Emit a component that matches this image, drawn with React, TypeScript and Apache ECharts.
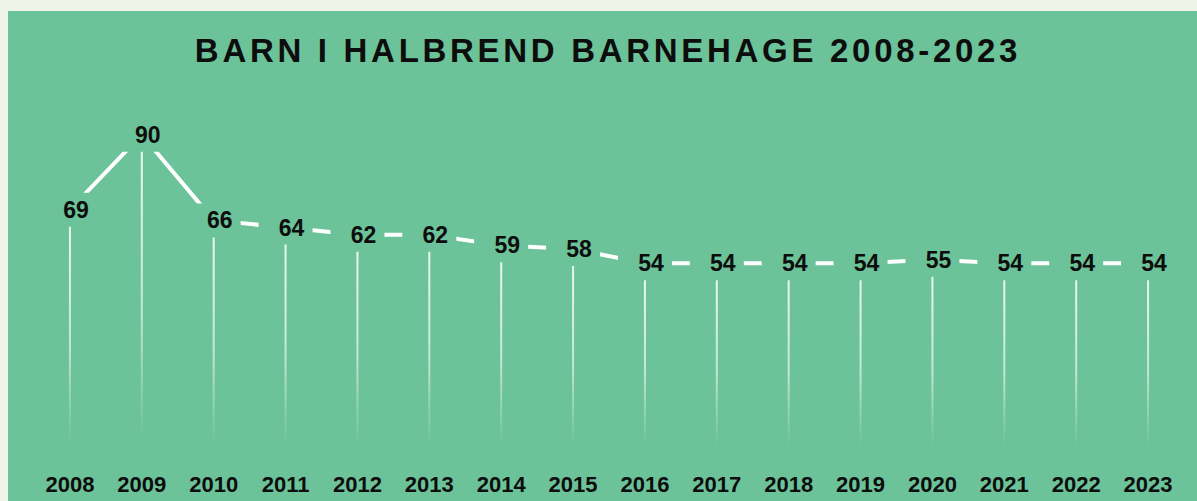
import React, { useEffect, useRef } from "react";
import * as echarts from "echarts";

const TITLE = "BARN I HALBREND BARNEHAGE 2008-2023";
const years = [
  "2008", "2009", "2010", "2011", "2012", "2013", "2014", "2015",
  "2016", "2017", "2018", "2019", "2020", "2021", "2022", "2023",
];
const children = [69, 90, 66, 64, 62, 62, 59, 58, 54, 54, 54, 54, 55, 54, 54, 54];

const GREEN = "#6cc399";
const PAGE_BG = "#eef4e7";
const FONT = "'Liberation Sans', Arial, Helvetica, sans-serif";

export default function App() {
  const ref = useRef<HTMLDivElement>(null);

  useEffect(() => {
    const el = ref.current!;
    const chart = echarts.init(el, null, { renderer: "svg" });
    chart.setOption({
      animation: false,
      backgroundColor: GREEN,
      graphic: [
        {
          type: "text",
          x: 600,
          y: 39,
          style: {
            text: TITLE,
            textAlign: "center",
            textVerticalAlign: "middle",
            fontFamily: FONT,
            fontWeight: "bold",
            fontSize: 33,
            fill: "#0d0d0d",
          },
        },
      ],
      grid: { left: 26, right: 13, top: 88, bottom: 45, containLabel: false },
      xAxis: {
        type: "category",
        data: years,
        boundaryGap: true,
        axisLine: { show: false },
        axisTick: { show: false },
        splitLine: { show: false },
        axisLabel: {
          margin: 17,
          fontFamily: FONT,
          fontWeight: "bold",
          fontSize: 22,
          color: "#0d0d0d",
        },
      },
      yAxis: {
        type: "value",
        min: 0,
        max: 100,
        show: false,
        splitLine: { show: false },
      },
      series: [
        {
          type: "bar",
          data: children,
          barWidth: 2,
          z: 1,
          silent: true,
          itemStyle: {
            color: new echarts.graphic.LinearGradient(0, 0, 0, 1, [
              { offset: 0, color: "rgba(255,255,255,0.9)" },
              { offset: 0.55, color: "rgba(255,255,255,0.6)" },
              { offset: 0.95, color: "rgba(255,255,255,0)" },
              { offset: 1, color: "rgba(255,255,255,0)" },
            ]),
          },
        },
        {
          type: "line",
          data: children,
          z: 3,
          symbol: "rect",
          symbolSize: [54, 34],
          itemStyle: { color: GREEN, borderWidth: 0 },
          lineStyle: { color: "#ffffff", width: 4 },
          label: {
            show: true,
            position: "inside",
            offset: [6, 0],
            fontFamily: FONT,
            fontWeight: "bold",
            fontSize: 23,
            color: "#0d0d0d",
          },
          emphasis: { disabled: true },
        },
      ],
    });

    const applySpacing = () => {
      el.querySelectorAll("text").forEach((t) => {
        if (t.textContent === TITLE) {
          t.setAttribute("letter-spacing", "3.7");
        }
      });
    };
    applySpacing();
    chart.on("finished", applySpacing);
    const tm = setTimeout(applySpacing, 50);

    return () => {
      clearTimeout(tm);
      chart.dispose();
    };
  }, []);

  return (
    <div
      style={{
        position: "fixed",
        left: 0,
        top: 0,
        width: 1197,
        height: 501,
        background: PAGE_BG,
        overflow: "hidden",
      }}
    >
      <div
        ref={ref}
        style={{
          position: "absolute",
          left: 8,
          top: 11,
          width: 1189,
          height: 490,
          background: GREEN,
        }}
      />
    </div>
  );
}
